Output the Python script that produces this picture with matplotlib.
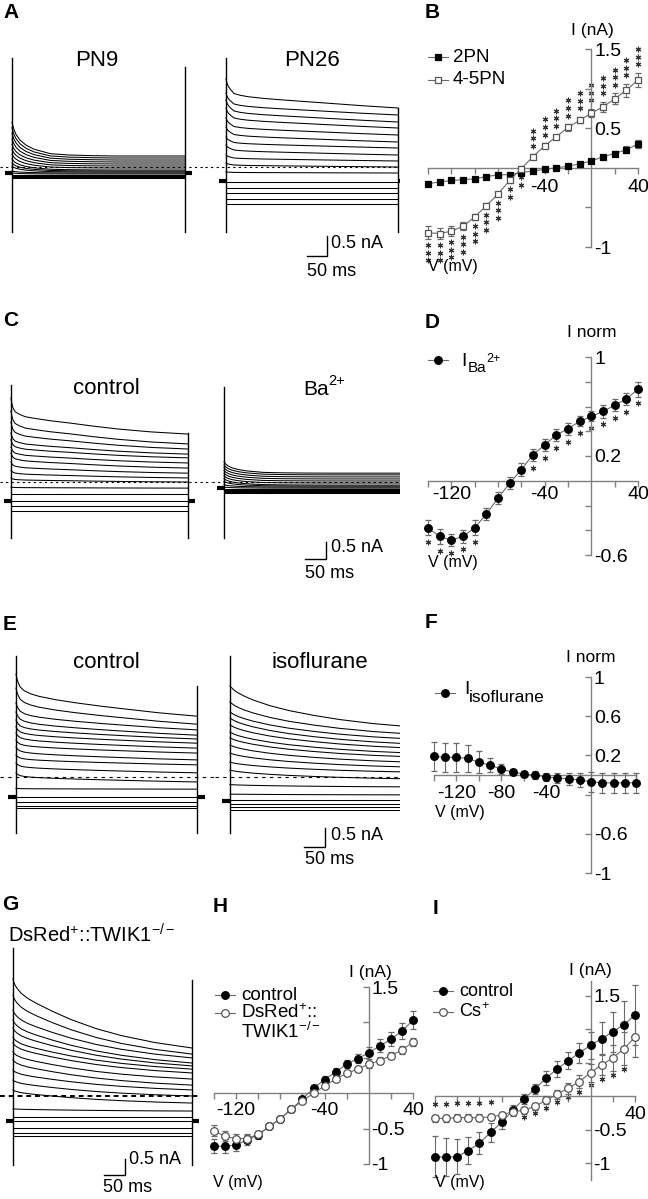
import numpy as np
import matplotlib
matplotlib.use('Agg')
import matplotlib.pyplot as plt

plt.rcParams['font.family'] = ['Liberation Sans', 'DejaVu Sans']
plt.rcParams['mathtext.fontset'] = 'custom'
plt.rcParams['mathtext.rm'] = 'Liberation Sans'
plt.rcParams['mathtext.it'] = 'Liberation Sans:italic'
plt.rcParams['mathtext.default'] = 'regular'

# ---------------- current traces (nA), read at t_read (ms) ----------------
t_read = [0, 2, 5, 10, 20, 35, 55, 95, 140, 200, 260, 340, 430]
sweep_ms = 430

pn9_peak = [1.12, 0.98, 0.84, 0.70, 0.56, 0.44, 0.32, 0.20, 0.10, 0.02, -0.10, -0.15, -0.20, -0.225, -0.25, -0.275]
pn9_end = [0.275, 0.225, 0.175, 0.125, 0.075, 0.025, -0.025, -0.075, -0.10, -0.125, -0.15, -0.175, -0.20, -0.225, -0.25, -0.275]
pn9_decay = [1, 0.9, 0.78, 0.64, 0.47, 0.32, 0.2, 0.07, 0.03, 0.01, 0, 0, 0]

pn26_peak = [2.2, 1.85, 1.675, 1.475, 1.225, 1.0, 0.75, 0.55, 0.3, 0.1, -0.12, -0.375, -0.525, -0.65, -0.8, -0.925]
pn26_end = [1.475, 1.3, 1.125, 0.975, 0.8, 0.625, 0.475, 0.3, 0.15, 0.0, -0.15, -0.375, -0.525, -0.65, -0.8, -0.925]
pn26_decay = [1, 0.88, 0.77, 0.66, 0.5, 0.44, 0.39, 0.33, 0.28, 0.22, 0.16, 0.08, 0]

ctlC_peak = [2.47, 2.09, 1.76, 1.44, 1.24, 1.03, 0.85, 0.59, 0.35, 0.12, -0.15, -0.35, -0.56, -0.71, -0.85]
ctlC_end = [1.41, 1.12, 0.97, 0.82, 0.71, 0.56, 0.41, 0.26, 0.12, 0.0, -0.18, -0.35, -0.56, -0.71, -0.85]
ctlC_decay = [1, 0.85, 0.72, 0.62, 0.55, 0.48, 0.44, 0.37, 0.31, 0.22, 0.14, 0.06, 0]

ba_peak = [0.59, 0.5, 0.42, 0.34, 0.26, 0.18, 0.1, 0.02, -0.08, -0.15, -0.21, -0.24, -0.26, -0.29, -0.32]
ba_end = [0.26, 0.21, 0.15, 0.09, 0.03, -0.03, -0.09, -0.12, -0.15, -0.18, -0.21, -0.24, -0.26, -0.29, -0.32]
ba_decay = [1, 0.9, 0.78, 0.64, 0.47, 0.32, 0.2, 0.07, 0.03, 0.01, 0, 0, 0]

ctlE_peak = [2.71, 2.34, 1.95, 1.71, 1.5, 1.32, 1.16, 0.97, 0.79, 0.58, 0.37, 0.11, -0.3, -0.53, -0.66, -0.76, -0.82]
ctlE_end = [1.6, 1.39, 1.24, 1.1, 1.0, 0.89, 0.76, 0.63, 0.45, 0.32, 0.11, -0.13, -0.32, -0.53, -0.66, -0.76, -0.82]
ctlE_decay = [1, 0.9, 0.8, 0.69, 0.6, 0.53, 0.47, 0.39, 0.32, 0.24, 0.17, 0.08, 0]

iso_peak = [2.39, 1.97, 1.71, 1.55, 1.37, 1.18, 1.03, 0.84, 0.63, 0.39, 0.18, -0.2, -0.45, -0.6, -0.71, -0.79, -0.87]
iso_end = [1.32, 1.13, 1.0, 0.87, 0.76, 0.63, 0.53, 0.39, 0.26, 0.13, -0.05, -0.26, -0.47, -0.6, -0.71, -0.79, -0.87]
iso_decay = [1, 0.98, 0.95, 0.9, 0.83, 0.75, 0.66, 0.52, 0.4, 0.28, 0.18, 0.08, 0]

ko_peak = [3.66, 3.16, 2.69, 2.38, 2.13, 1.84, 1.66, 1.38, 1.13, 0.81, 0.5, 0.19, -0.4, -0.66, -0.78, -1.0, -1.16, -1.25]
ko_end = [1.5, 1.31, 1.19, 1.03, 0.94, 0.84, 0.72, 0.53, 0.34, 0.19, 0.0, -0.22, -0.47, -0.66, -0.78, -1.0, -1.16, -1.25]
ko_decay = [1, 0.95, 0.91, 0.86, 0.79, 0.72, 0.65, 0.53, 0.41, 0.28, 0.18, 0.08, 0]

# holding current and capacitive transient extents (nA): on-top, on-bottom, off-top, off-bottom
pn9_hold, pn9_trans = -0.15, [2.725, -1.625, 2.5, -1.625]
pn26_hold, pn26_trans = -0.35, [2.725, -1.625, 1.475, -1.625]
ctlC_hold, ctlC_trans = -0.56, [2.85, -1.65, 1.44, -1.65]
ba_hold, ba_trans = -0.18, [2.79, -1.65, 0.26, -1.65]
ctlE_hold, ctlE_trans = -0.53, [3.18, -1.47, 2.39, -1.47]
iso_hold, iso_trans = -0.63, [3.18, -1.47, 1.32, -1.47]
ko_hold, ko_trans = -0.78, [4.63, -2.16, 3.63, -2.16]

# ---------------- I-V curves ----------------
volt = [-140, -130, -120, -110, -100, -90, -80, -70, -60, -50, -40, -30, -20, -10, 0, 10, 20, 30, 40]

b_2pn = [-0.2, -0.18, -0.16, -0.15, -0.14, -0.11, -0.09, -0.085, -0.06, -0.04, -0.02, 0.0, 0.02, 0.05, 0.085, 0.14, 0.18, 0.23, 0.3]
b_2pn_err = [0.02, 0.02, 0.02, 0.015, 0.015, 0.015, 0.015, 0.015, 0.015, 0.015, 0.015, 0.015, 0.015, 0.02, 0.02, 0.02, 0.03, 0.04, 0.05]
b_45pn = [-0.82, -0.83, -0.8, -0.74, -0.62, -0.48, -0.33, -0.16, -0.01, 0.14, 0.28, 0.39, 0.51, 0.6, 0.69, 0.77, 0.87, 0.98, 1.11]
b_45pn_err = [0.08, 0.07, 0.06, 0.05, 0.04, 0.03, 0.03, 0.03, 0.03, 0.03, 0.03, 0.03, 0.04, 0.04, 0.05, 0.06, 0.07, 0.08, 0.09]
b_stars = [-3, -3, -3, -3, -3, -3, -3, -2, -2, 3, 3, 3, 3, 3, 3, 3, 3, 3, 3]

d_ba = [-0.38, -0.45, -0.48, -0.45, -0.38, -0.27, -0.14, -0.02, 0.09, 0.21, 0.29, 0.37, 0.42, 0.48, 0.52, 0.56, 0.61, 0.66, 0.74]
d_ba_err = [0.06, 0.06, 0.05, 0.05, 0.06, 0.05, 0.05, 0.05, 0.05, 0.05, 0.05, 0.05, 0.05, 0.04, 0.04, 0.05, 0.05, 0.05, 0.06]
d_stars = [-1, -1, -1, -1, -1, 0, 0, 0, 0, -1, -1, -1, -1, -1, -1, -1, -1, -1, -1]

f_iso = [0.19, 0.18, 0.18, 0.17, 0.13, 0.10, 0.06, 0.03, 0.01, 0.0, -0.02, -0.03, -0.04, -0.05, -0.07, -0.08, -0.08, -0.08, -0.08]
f_iso_err = [0.15, 0.15, 0.15, 0.14, 0.11, 0.07, 0.05, 0.03, 0.03, 0.04, 0.04, 0.05, 0.06, 0.07, 0.1, 0.1, 0.1, 0.1, 0.1]

h_ctl = [-0.75, -0.75, -0.73, -0.66, -0.59, -0.47, -0.36, -0.23, -0.08, 0.07, 0.19, 0.3, 0.41, 0.49, 0.57, 0.67, 0.76, 0.88, 1.03]
h_ctl_err = [0.1, 0.1, 0.08, 0.07, 0.05, 0.04, 0.03, 0.03, 0.03, 0.04, 0.05, 0.05, 0.06, 0.07, 0.08, 0.09, 0.1, 0.11, 0.13]
h_ko = [-0.53, -0.61, -0.64, -0.64, -0.58, -0.47, -0.36, -0.22, -0.11, 0.0, 0.1, 0.2, 0.28, 0.34, 0.41, 0.46, 0.53, 0.61, 0.72]
h_ko_err = [0.08, 0.07, 0.06, 0.06, 0.04, 0.03, 0.03, 0.03, 0.03, 0.03, 0.03, 0.03, 0.03, 0.04, 0.05, 0.05, 0.05, 0.06, 0.06]

i_ctl = [-0.9, -0.91, -0.9, -0.81, -0.7, -0.54, -0.39, -0.21, -0.04, 0.11, 0.27, 0.41, 0.53, 0.65, 0.76, 0.86, 0.96, 1.07, 1.21]
i_ctl_err = [0.3, 0.28, 0.26, 0.2, 0.16, 0.14, 0.1, 0.08, 0.07, 0.08, 0.1, 0.12, 0.13, 0.15, 0.2, 0.25, 0.3, 0.35, 0.45]
i_cs = [-0.33, -0.33, -0.32, -0.32, -0.32, -0.31, -0.28, -0.23, -0.21, -0.15, -0.06, 0.03, 0.12, 0.22, 0.35, 0.47, 0.57, 0.71, 0.88]
i_cs_err = [0.05, 0.05, 0.05, 0.05, 0.05, 0.05, 0.05, 0.05, 0.05, 0.05, 0.06, 0.07, 0.08, 0.1, 0.13, 0.16, 0.2, 0.25, 0.3]
i_stars = [1, 1, 1, 1, 1, 1, 0, 0, -1, -1, -1, -1, -1, -1, -1, -1, -1, -1, 0]

W, H = 648, 1199
fig = plt.figure(figsize=(W / 100, H / 100), dpi=100)
axis_gray = '#808080'
line_gray = '#6a6a6a'
TICK_FS = 14
LEG_FS = 13.5


def px_axes(x0, x1, y0, y1, xlim, ylim):
    ax = fig.add_axes([x0 / W, 1 - y1 / H, (x1 - x0) / W, (y1 - y0) / H])
    ax.set_xlim(xlim)
    ax.set_ylim(ylim)
    ax.patch.set_alpha(0)
    return ax


def ftext(x, y, s, **kw):
    kw.setdefault('va', 'center')
    fig.text(x / W, 1 - y / H, s, **kw)


def sweep_axes(box, t0_px, t1_px, base_px, px_per_nA):
    x0, x1, y0, y1 = box
    px_ms = (t1_px - t0_px) / sweep_ms
    xlim = ((x0 - t0_px) / px_ms, (x1 - t0_px) / px_ms)
    ylim = ((base_px - y1) / px_per_nA, (base_px - y0) / px_per_nA)
    ax = px_axes(x0, x1, y0, y1, xlim, ylim)
    ax.axis('off')
    return ax


def draw_sweep(ax, peaks, ends, decay, hold, trans, dash=(2, 3), dash_lw=0.8):
    decay = np.asarray(decay)
    for p, e in zip(peaks, ends):
        ax.plot(t_read, e + (p - e) * decay, color='k', lw=0.75)
    ax.plot([0, 0], trans[:2], color='k', lw=1.0)
    ax.plot([sweep_ms, sweep_ms], trans[2:], color='k', lw=1.0)
    ax.plot([-18, 0], [hold, hold], color='k', lw=3, solid_capstyle='butt')
    ax.plot([sweep_ms, sweep_ms + 18], [hold, hold], color='k', lw=3, solid_capstyle='butt')
    ax.axhline(0, color='k', lw=dash_lw, ls=(0, dash))


def scale_bar(ax, cx_px, cy_px, txt_v, txt_h):
    cx, cy = ax.transData.inverted().transform((cx_px, H - cy_px))
    ax.plot([cx - 50, cx, cx], [cy, cy, cy + 0.5], color='k', lw=1, clip_on=False)
    ftext(*txt_v, '0.5 nA', fontsize=13)
    ftext(*txt_h, '50 ms', fontsize=13)


# ---- A ----
ax = sweep_axes((0, 205, 55, 240), 12, 185, 167, 40)
draw_sweep(ax, pn9_peak, pn9_end, pn9_decay, pn9_hold, pn9_trans)
ax = sweep_axes((205, 400, 55, 240), 226, 398, 167, 40)
draw_sweep(ax, pn26_peak, pn26_end, pn26_decay, pn26_hold, pn26_trans)
scale_bar(ax, 327, 256, (331, 243), (307, 272))
ftext(97, 60, 'PN9', fontsize=16, ha='center')
ftext(312, 60, 'PN26', fontsize=16, ha='center')

# ---- C ----
ax = sweep_axes((0, 212, 380, 545), 11, 188, 482, 34)
draw_sweep(ax, ctlC_peak, ctlC_end, ctlC_decay, ctlC_hold, ctlC_trans)
ax = sweep_axes((212, 400, 380, 545), 224, 401, 482, 34)
draw_sweep(ax, ba_peak, ba_end, ba_decay, ba_hold, ba_trans)
scale_bar(ax, 326, 559, (331, 548), (305, 573))
ftext(106, 388, 'control', fontsize=16, ha='center')
ftext(303, 390, 'Ba', fontsize=15)
ftext(328, 381, '2+', fontsize=10.5)

# ---- E ----
ax = sweep_axes((0, 215, 650, 840), 16, 197, 777, 38)
draw_sweep(ax, ctlE_peak, ctlE_end, ctlE_decay, ctlE_hold, ctlE_trans, dash=(3, 4))
ax = sweep_axes((215, 400, 650, 840), 230, 411, 777, 38)
draw_sweep(ax, iso_peak, iso_end, iso_decay, iso_hold, iso_trans, dash=(3, 4))
scale_bar(ax, 325, 847, (331, 836), (305, 860))
ftext(106, 662, 'control', fontsize=16, ha='center')
ftext(320, 662, 'isoflurane', fontsize=16, ha='center')

# ---- G ----
ax = sweep_axes((0, 200, 945, 1170), 13, 192, 1096, 32)
draw_sweep(ax, ko_peak, ko_end, ko_decay, ko_hold, ko_trans, dash=(2.5, 2), dash_lw=1.4)
scale_bar(ax, 125, 1175, (129, 1159), (103, 1187))
ftext(92, 935, 'DsRed$^{+}$::TWIK1$^{-/-}$', fontsize=14.5, ha='center')


# ---------------- I-V panels ----------------
def iv_axes(x0, x1, y0, y1, ylim, yticks, ylabels, xlabels, xpad):
    ax = px_axes(x0, x1, y0, y1, (-140, 40), ylim)
    ax.spines['left'].set_visible(False)
    ax.spines['top'].set_visible(False)
    ax.spines['right'].set_position(('data', 0))
    ax.spines['bottom'].set_position(('data', 0))
    for side in ('right', 'bottom'):
        ax.spines[side].set_color(axis_gray)
        ax.spines[side].set_linewidth(1)
    ax.yaxis.set_ticks_position('right')
    ax.xaxis.set_ticks_position('bottom')
    xt = [v for v in volt if v % 20 == 0 and v != 0]
    ax.set_xticks(xt, [str(v) if v in xlabels else '' for v in xt])
    ax.set_yticks(yticks, ylabels)
    ax.tick_params(axis='y', direction='in', length=4, width=1, color=axis_gray, pad=2, labelsize=TICK_FS)
    ax.tick_params(axis='x', direction='out', length=4, width=1, color=axis_gray, pad=xpad, labelsize=TICK_FS)
    return ax


def iv_series(ax, vals, err, marker, filled, ms):
    ax.errorbar(volt, vals, yerr=err, color=line_gray, lw=0.8, marker=marker, ms=ms,
                mfc='k' if filled else 'white', mec='k' if filled else '#555555', mew=0.9,
                ecolor=line_gray, elinewidth=0.8, capsize=2, capthick=0.8, clip_on=False, zorder=3)


def add_stars(ax, vals, err, stars, off_up, off_dn, step):
    for v, y, e, n in zip(volt, vals, err, stars):
        if n == 0:
            continue
        s = np.sign(n)
        off = off_up if s > 0 else off_dn
        ys = y + s * (e + off + step * np.arange(abs(n)))
        ax.plot([v] * abs(n), ys, ls='none', marker=(6, 2, 0), ms=4, mew=0.8,
                color='#333333', clip_on=False)


ov = fig.add_axes([0, 0, 1, 1])
ov.set_xlim(0, W)
ov.set_ylim(H, 0)
ov.axis('off')
ov.patch.set_alpha(0)


def legend_entry(x, y, tx, ty, label, marker, filled, ms, fs=LEG_FS):
    ov.plot([x, x + 20], [y, y], color=line_gray, lw=0.8)
    ov.plot([x + 10], [y], marker=marker, ms=ms, mfc='k' if filled else 'white',
            mec='k' if filled else '#555555', mew=0.9)
    if label:
        ov.text(tx, ty, label, fontsize=fs, va='center')


# B
ax = iv_axes(428, 638, 49, 247, (-1, 1.5), [-1, -0.5, 0.5, 1, 1.5], ['-1', '', '0.5', '', '1.5'], [-40, 40], 4)
iv_series(ax, b_2pn, b_2pn_err, 's', True, 4.5)
iv_series(ax, b_45pn, b_45pn_err, 's', False, 5)
add_stars(ax, b_45pn, b_45pn_err, b_stars, 0.11, 0.08, 0.095)
legend_entry(428, 57, 453, 57, '2PN', 's', True, 4.5)
legend_entry(428, 80, 453, 80, '4-5PN', 's', False, 5)
ftext(592, 30, 'I (nA)', fontsize=12.5, ha='center')
ftext(428, 267, 'V (mV)', fontsize=11.5)

# D
ax = iv_axes(428, 638, 357, 555, (-0.6, 1), [-0.6, -0.4, -0.2, 0.2, 0.4, 0.6, 0.8, 1],
             ['-0.6', '', '', '0.2', '', '', '', '1'], [-120, -40, 40], 0)
iv_series(ax, d_ba, d_ba_err, 'o', True, 5.5)
add_stars(ax, d_ba, d_ba_err, d_stars, 0.06, 0.055, 0.08)
legend_entry(428, 360, 0, 0, '', 'o', True, 5.5)
ftext(461, 362, 'I', fontsize=14)
ftext(468, 368, 'Ba', fontsize=11)
ftext(486, 359, '2+', fontsize=9)
ftext(592, 332, 'I norm', fontsize=12.5, ha='center')
ftext(428, 563, 'V (mV)', fontsize=11.5)

# F
ax = iv_axes(434, 636, 677, 873, (-1, 1), [-1, -0.6, -0.2, 0.2, 0.6, 1],
             ['-1', '-0.6', '', '0.2', '0.6', '1'], [-120, -80, -40], 3)
iv_series(ax, f_iso, f_iso_err, 'o', True, 5.5)
legend_entry(435, 693, 0, 0, '', 'o', True, 5.5)
ftext(464, 690, 'I', fontsize=14)
ftext(469, 698, 'isoflurane', fontsize=12.5)
ftext(591, 658, 'I norm', fontsize=12.5, ha='center')
ftext(435, 812, 'V (mV)', fontsize=11.5)

# H
ax = iv_axes(214, 413, 987, 1164, (-1, 1.5), [-1, -0.5, 0.5, 1, 1.5],
             ['-1', '-0.5', '', '', '1.5'], [-120, -40, 40], 2)
iv_series(ax, h_ctl, h_ctl_err, 'o', True, 5.5)
iv_series(ax, h_ko, h_ko_err, 'o', False, 5.5)
legend_entry(215, 995, 241, 995, 'control', 'o', True, 5.5)
legend_entry(215, 1013, 241, 1013, 'DsRed$^{+}$::', 'o', False, 5.5)
ftext(241, 1032, 'TWIK1$^{-/-}$', fontsize=LEG_FS)
ftext(370, 972, 'I (nA)', fontsize=12.5, ha='center')
ftext(213, 1183, 'V (mV)', fontsize=11.5)

# I
ax = iv_axes(435, 635, 981, 1180, (-1.25, 1.72), [-1, -0.5, 0.5, 1, 1.5],
             ['-1', '-0.5', '', '', '1.5'], [40], 3)
iv_series(ax, i_ctl, i_ctl_err, 'o', True, 5.5)
iv_series(ax, i_cs, i_cs_err, 'o', False, 5.5)
add_stars(ax, i_cs, i_cs_err, i_stars, 0.17, 0.05, 0.1)
legend_entry(433, 991, 459, 991, 'control', 'o', True, 5.5, fs=13)
legend_entry(433, 1012, 459, 1012, 'Cs$^{+}$', 'o', False, 5.5, fs=13)
ftext(590, 970, 'I (nA)', fontsize=12.5, ha='center')
ftext(435, 1183, 'V (mV)', fontsize=11.5)

# panel letters
for lab, x, y in [('A', 3, 12), ('B', 425, 13), ('C', 3, 321), ('D', 425, 322), ('E', 3, 624),
                  ('F', 425, 622), ('G', 2, 904), ('H', 213, 907), ('I', 433, 908)]:
    ftext(x, y, lab, fontsize=15, fontweight='bold')

fig.savefig('out.png', dpi=100)
